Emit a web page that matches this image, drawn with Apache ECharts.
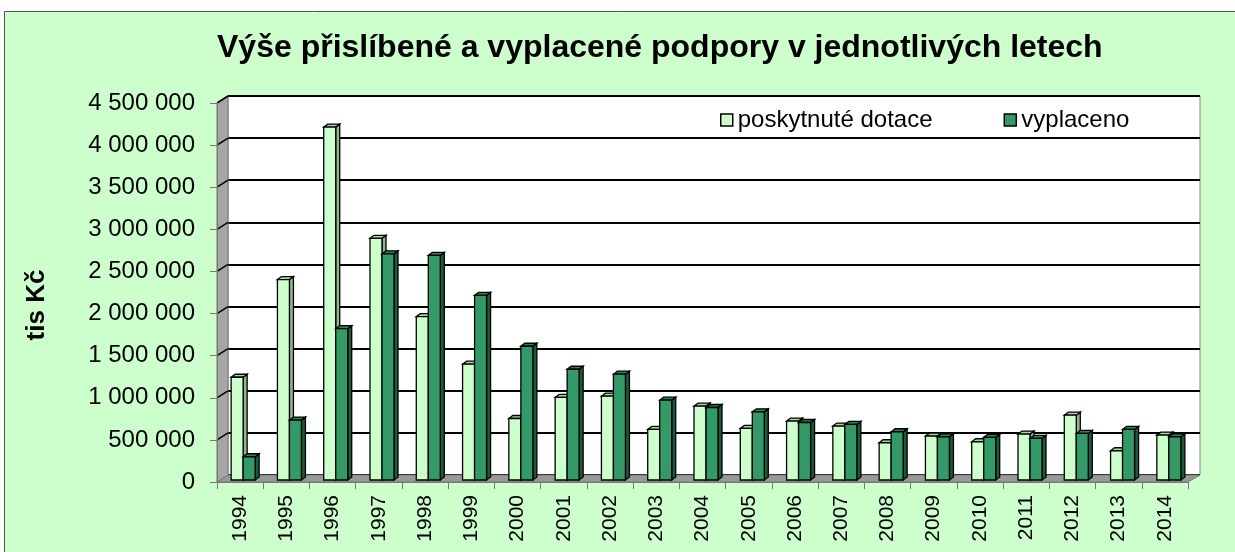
<!DOCTYPE html>
<html>
<head>
<meta charset="utf-8">
<script src="https://cdn.jsdelivr.net/npm/echarts@6/dist/echarts.min.js"></script>
<style>
  html, body { margin: 0; padding: 0; background: #fff; }
  #chart { width: 1235px; height: 552px; }
</style>
</head>
<body>
<div id="chart"></div>
<script>
// data
const years = ['1994', '1995', '1996', '1997', '1998', '1999', '2000', '2001', '2002', '2003', '2004',
  '2005', '2006', '2007', '2008', '2009', '2010', '2011', '2012', '2013', '2014']
const poskytnuto = [1220000, 2380000, 4190000, 2870000, 1940000, 1375000, 730000, 980000, 995000, 600000, 877000,
  612000, 700000, 640000, 442000, 521000, 454000, 545000, 770000, 347000, 533000]
const vyplaceno = [276000, 711000, 1797000, 2686000, 2666000, 2192000, 1588000, 1315000, 1256000, 948000, 861000,
  810000, 683000, 660000, 573000, 513000, 506000, 494000, 553000, 600000, 513000]
const yMax = 4500000
const yStep = 500000

const font = 'Liberation Sans, Arial, sans-serif'

// rozmery "3D" krabice
const W = 1235, H = 552
const back = { l: 228, r: 1200, t: 96, b: 475 }
const front = { l: 217, r: 1188, t: 103, b: 482 }
const bars = { l: 220, r: 1192, t: 101, b: 480 }

const fmt = (v) => String(v).replace(/\B(?=(\d{3})+(?!\d))/g, ' ')

function bar3d(s, colors) {
  return function (params, api) {
    const i = api.value(0)
    const v = api.value(1)
    const base = api.coord([i, 0])
    const top = api.coord([i, v])
    const bw = 12, d = 4, dd = 3
    const x0 = base[0] - bw + s * bw
    const y0 = top[1]
    const y1 = base[1]
    const st = { stroke: '#000', lineWidth: 1.3 }
    return {
      type: 'group',
      children: [
        {
          type: 'polygon',
          shape: { points: [[x0 + bw, y0], [x0 + bw + d, y0 - dd], [x0 + bw + d, y1 - dd], [x0 + bw, y1]] },
          style: Object.assign({ fill: colors[1] }, st),
        },
        {
          type: 'polygon',
          shape: { points: [[x0, y0], [x0 + d, y0 - dd], [x0 + bw + d, y0 - dd], [x0 + bw, y0]] },
          style: Object.assign({ fill: colors[2] }, st),
        },
        {
          type: 'rect',
          shape: { x: x0, y: y0, width: bw, height: y1 - y0 },
          style: Object.assign({ fill: colors[0] }, st),
        },
      ],
    }
  }
}

// sikme cary na leve stene
const wallLines = []
for (let v = yStep; v <= yMax; v += yStep) {
  const yf = front.b - (front.b - front.t) * v / yMax
  const yb = back.b - (back.b - back.t) * v / yMax
  wallLines.push({
    type: 'line',
    z: 2,
    shape: { x1: front.l, y1: yf, x2: back.l, y2: yb },
    style: { stroke: '#000', lineWidth: 1.5 },
  })
}

let myChart = echarts.init(document.getElementById('chart'))
let option = {
  backgroundColor: '#fff',
  animation: false,
  textStyle: { fontFamily: font },
  title: {
    text: 'Výše přislíbené a vyplacené podpory v jednotlivých letech',
    left: 212,
    top: 27,
    textStyle: { fontSize: 32, fontWeight: 'bold', color: '#000', fontFamily: font },
  },
  legend: {
    left: 715,
    top: 103,
    icon: 'rect',
    itemWidth: 12,
    itemHeight: 12,
    itemGap: 71,
    itemStyle: { borderColor: '#000', borderWidth: 1.5 },
    textStyle: { fontSize: 24, color: '#000', fontFamily: font },
    data: ['poskytnuté dotace', 'vyplaceno'],
    z: 20,
  },
  graphic: [
    {
      type: 'rect',
      z: -10,
      shape: { x: 4.5, y: 11.5, width: W, height: H },
      style: { fill: '#CCFFCC', stroke: '#555', lineWidth: 1 },
    },
    // podlaha
    {
      type: 'polygon',
      z: 1,
      shape: { points: [[front.l, front.b], [front.r, front.b], [back.r, back.b], [back.l, back.b]] },
      style: { fill: '#999', stroke: '#777', lineWidth: 1 },
    },
    // leva stena
    {
      type: 'polygon',
      z: 1,
      shape: { points: [[front.l, front.t], [back.l, back.t], [back.l, back.b], [front.l, front.b]] },
      style: { fill: '#A6A6A6', stroke: '#777', lineWidth: 1 },
    },
    ...wallLines,
    {
      type: 'text',
      x: 37,
      y: 305,
      rotation: Math.PI / 2,
      style: {
        text: 'tis Kč',
        fontSize: 26,
        fontWeight: 'bold',
        fontFamily: font,
        fill: '#000',
        align: 'center',
        verticalAlign: 'middle',
      },
    },
  ],
  grid: [
    {
      left: back.l, right: W - back.r, top: back.t, bottom: H - back.b,
      show: true, backgroundColor: '#fff', borderColor: '#888', borderWidth: 1,
    },
    { left: bars.l, right: W - bars.r, top: bars.t, bottom: H - bars.b },
    { left: front.l, right: W - front.r, top: front.t, bottom: H - front.b },
  ],
  xAxis: [
    { gridIndex: 0, type: 'category', data: years, show: false },
    { gridIndex: 1, type: 'category', data: years, show: false },
    {
      gridIndex: 2,
      type: 'category',
      data: years,
      axisLine: { show: true, lineStyle: { color: '#777', width: 1 } },
      axisTick: { show: true, length: 7, lineStyle: { color: '#777' } },
      axisLabel: { rotate: 90, margin: 13, fontSize: 21, color: '#000', fontFamily: font },
      z: 5,
    },
  ],
  yAxis: [
    {
      gridIndex: 0, type: 'value', min: 0, max: yMax, interval: yStep,
      axisLine: { show: false }, axisTick: { show: false }, axisLabel: { show: false },
      splitLine: { show: true, lineStyle: { color: '#000', width: 2 } },
    },
    { gridIndex: 1, type: 'value', min: 0, max: yMax, interval: yStep, show: false },
    {
      gridIndex: 2, type: 'value', min: 0, max: yMax, interval: yStep,
      axisLine: { show: true, lineStyle: { color: '#777', width: 1 } },
      axisTick: { show: true, length: 7, lineStyle: { color: '#777' } },
      axisLabel: { formatter: fmt, fontSize: 24, color: '#000', margin: 22, fontFamily: font },
      splitLine: { show: false },
      z: 5,
    },
  ],
  series: [
    {
      name: 'poskytnuté dotace',
      type: 'custom',
      xAxisIndex: 1,
      yAxisIndex: 1,
      z: 10,
      itemStyle: { color: '#CCFFCC' },
      renderItem: bar3d(0, ['#CCFFCC', '#8FB88F', '#A9D3A9']),
      data: poskytnuto.map((v, i) => [i, v]),
    },
    {
      name: 'vyplaceno',
      type: 'custom',
      xAxisIndex: 1,
      yAxisIndex: 1,
      z: 11,
      itemStyle: { color: '#339966' },
      renderItem: bar3d(1, ['#339966', '#1C5A3B', '#2B8055']),
      data: vyplaceno.map((v, i) => [i, v]),
    },
  ],
}
myChart.setOption(option)
</script>
</body>
</html>
